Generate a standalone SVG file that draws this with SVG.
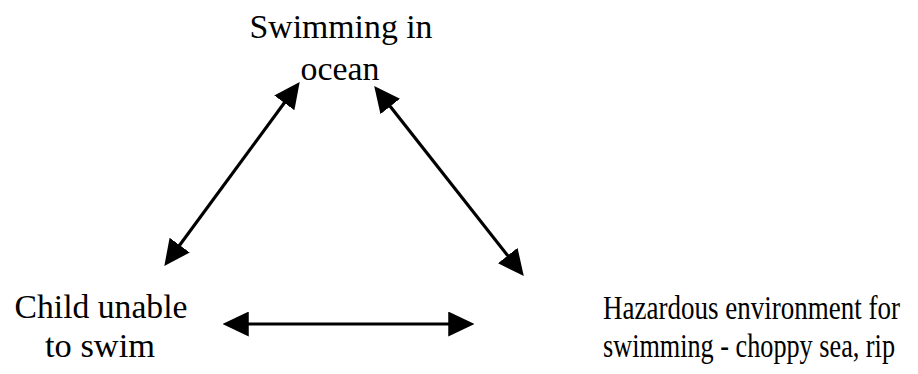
<svg xmlns="http://www.w3.org/2000/svg" width="918" height="374" viewBox="0 0 918 374">
<style>
text{font-family:"Liberation Serif","Times New Roman",serif;font-size:34px;fill:#000}
.c{text-anchor:middle}
.conn line{stroke:#000;stroke-width:3.2;fill:none;marker-start:url(#ah);marker-end:url(#ah)}
</style>
<defs>
<marker id="ah" markerUnits="userSpaceOnUse" markerWidth="26" markerHeight="25" refX="18" refY="12" orient="auto-start-reverse" viewBox="0 0 25 24">
<path d="M0,0 L25,12 L0,24 Z" fill="#000"/>
</marker>
</defs>
<rect width="918" height="374" fill="#fff"/>
<g id="swimming">
<text class="c" x="341" y="38" textLength="183" lengthAdjust="spacingAndGlyphs">Swimming in</text>
<text class="c" x="340" y="80" textLength="79" lengthAdjust="spacingAndGlyphs">ocean</text>
</g>
<g id="child">
<text class="c" x="101" y="318" textLength="173" lengthAdjust="spacingAndGlyphs">Child unable</text>
<text class="c" x="100" y="357" textLength="110" lengthAdjust="spacingAndGlyphs">to swim</text>
</g>
<g id="hazard">
<text x="603" y="319" textLength="297" lengthAdjust="spacingAndGlyphs">Hazardous environment for</text>
<text x="603" y="357" textLength="292" lengthAdjust="spacingAndGlyphs">swimming - choppy sea, rip</text>
</g>
<g id="connectors" class="conn">
<line x1="295.4" y1="87.8" x2="168.6" y2="260.2"/>
<line x1="378.7" y1="91.7" x2="519.3" y2="270.3"/>
<line x1="230" y1="324" x2="467" y2="324"/>
</g>
</svg>
